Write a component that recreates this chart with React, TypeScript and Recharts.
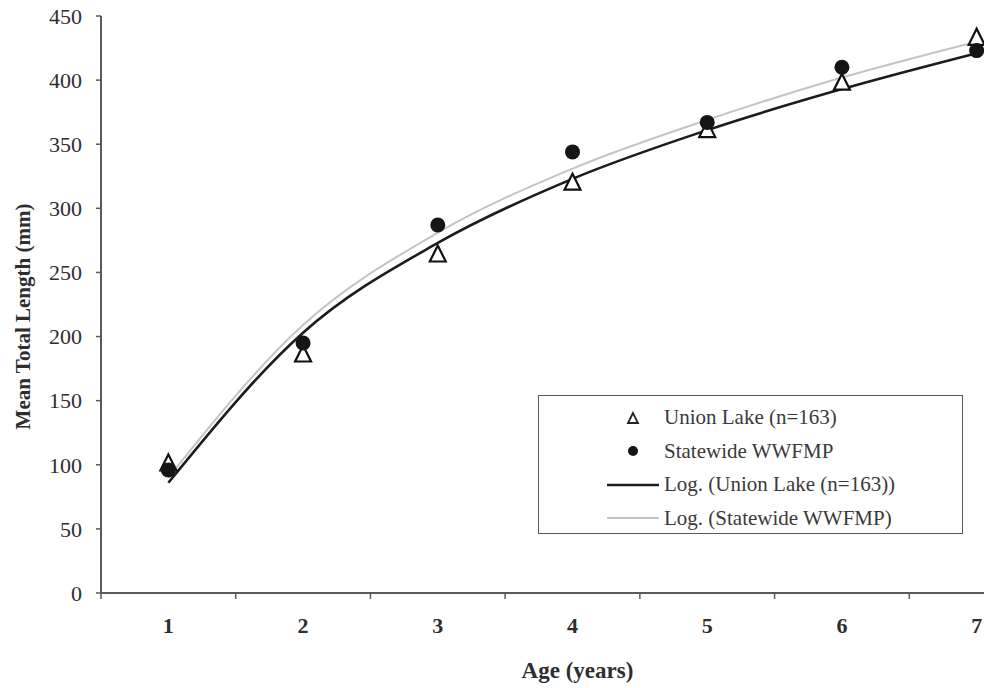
import {
  ComposedChart, Line, Scatter, XAxis, YAxis, Legend,
} from 'recharts'

const AGES = [1, 2, 3, 4, 5, 6, 7]
const AGE_BOUNDS = [0.5, 1.5, 2.5, 3.5, 4.5, 5.5, 6.5, 7.5]
const UNION_LAKE = [101, 186, 264, 320, 361, 398, 433]
const STATEWIDE = [96, 195, 287, 344, 367, 410, 423]
// trendline heights at each age
const UNION_LOG = [86, 203, 273, 323, 361, 393, 421]
const STATEWIDE_LOG = [90, 209, 281, 331, 369, 402, 430]
const Y_TICKS = [0, 50, 100, 150, 200, 250, 300, 350, 400, 450]

const LEGEND_ITEMS = [
  { label: 'Union Lake (n=163)', kind: 'triangle' },
  { label: 'Statewide WWFMP', kind: 'circle' },
  { label: 'Log. (Union Lake (n=163))', kind: 'dark' },
  { label: 'Log. (Statewide WWFMP)', kind: 'light' },
]

const FONT = '"Liberation Serif", "Times New Roman", serif'
const TEXT = '#2e2e2e'
const AXIS = '#5a5a5a'
const DARK_LINE = '#1c1c1c'
const LIGHT_LINE = '#c4c4c4'
const X_TICK_SIZE = 6
const X_TICK_MARGIN = 18

const data = AGES.map((age, i) => ({
  age,
  union: UNION_LAKE[i],
  state: STATEWIDE[i],
  unionLog: UNION_LOG[i],
  stateLog: STATEWIDE_LOG[i],
}))

const xTicks = [...AGES, ...AGE_BOUNDS].sort((a, b) => a - b)

function Triangle({ cx, cy }: any) {
  return (
    <polygon
      points={`${cx},${cy - 9} ${cx - 8},${cy + 7} ${cx + 8},${cy + 7}`}
      fill="#fff"
      stroke="#111"
      strokeWidth={2.2}
    />
  )
}

function Dot({ cx, cy }: any) {
  return <circle cx={cx} cy={cy} r={7.5} fill="#151515" />
}

function AgeTick({ x, y, payload }: any) {
  const v = payload.value
  if (Number.isInteger(v)) {
    return (
      <text x={x} y={y} dy="0.71em" textAnchor="middle" fontFamily={FONT}
        fontSize={22} fontWeight="bold" fill={TEXT}>
        {v}
      </text>
    )
  }
  const axisY = y - X_TICK_MARGIN - X_TICK_SIZE
  return <line x1={x} x2={x} y1={axisY} y2={axisY + X_TICK_SIZE} stroke={AXIS} strokeWidth={1.5} />
}

function LegendBox() {
  return (
    <div style={{
      width: 425, height: 139, boxSizing: 'border-box', border: `1.5px solid ${AXIS}`,
      background: '#fff', fontFamily: FONT, fontSize: 21, color: '#3a3a3a', paddingTop: 5,
    }}>
      {LEGEND_ITEMS.map(item => (
        <div key={item.label} style={{ display: 'flex', alignItems: 'center', height: 33.5 }}>
          <svg width={122} height={20} style={{ flex: 'none' }}>
            {item.kind === 'triangle' && (
              <polygon points="94,5 89,15 99,15" fill="#fff" stroke="#222" strokeWidth={1.8} />
            )}
            {item.kind === 'circle' && <circle cx={94} cy={10} r={5} fill="#151515" />}
            {item.kind === 'dark' && <line x1={68} x2={120} y1={10} y2={10} stroke={DARK_LINE} strokeWidth={2.5} />}
            {item.kind === 'light' && <line x1={68} x2={120} y1={10} y2={10} stroke={LIGHT_LINE} strokeWidth={2} />}
          </svg>
          <span style={{ marginLeft: 3, whiteSpace: 'nowrap' }}>{item.label}</span>
        </div>
      ))}
    </div>
  )
}

export default function App() {
  return (
    <div style={{
      position: 'absolute', left: 0, top: 0, width: 984, height: 688,
      overflow: 'hidden', background: '#fff',
    }}>
      <ComposedChart width={1060} height={688} data={data}
        margin={{ top: 16, right: 16, bottom: 0, left: 0 }}>
        <XAxis
          dataKey="age"
          type="number"
          domain={[0.5, 7.5]}
          ticks={xTicks}
          interval={0}
          tickLine={false}
          tickSize={X_TICK_SIZE}
          tickMargin={X_TICK_MARGIN}
          tick={<AgeTick />}
          axisLine={{ stroke: AXIS, strokeWidth: 2 }}
          height={95}
          label={{
            content: ({ viewBox }: any) => (
              <text x={viewBox.x + viewBox.width / 2 + 5} y={viewBox.y + 85} textAnchor="middle"
                fontFamily={FONT} fontSize={23} fontWeight="bold" fill={TEXT}>
                Age (years)
              </text>
            ),
          }}
        />
        <YAxis
          type="number"
          domain={[0, 450]}
          ticks={Y_TICKS}
          interval={0}
          width={101}
          tickSize={5}
          tickMargin={14}
          tick={{ fontFamily: FONT, fontSize: 22, fill: TEXT }}
          tickLine={{ stroke: AXIS, strokeWidth: 1.5 }}
          axisLine={{ stroke: AXIS, strokeWidth: 2 }}
          label={{
            content: ({ viewBox }: any) => {
              const x = viewBox.x + 23
              const y = viewBox.y + viewBox.height / 2 + 12
              return (
                <text x={x} y={y} transform={`rotate(-90, ${x}, ${y})`} textAnchor="middle"
                  dominantBaseline="central" fontFamily={FONT} fontSize={21} fontWeight="bold" fill={TEXT}>
                  Mean Total Length (mm)
                </text>
              )
            },
          }}
        />
        <Legend
          layout="vertical"
          align="center"
          verticalAlign="middle"
          content={() => <LegendBox />}
          wrapperStyle={{ left: 538, top: 395, width: 425, height: 139 }}
        />
        <Line dataKey="stateLog" type="monotone" stroke={LIGHT_LINE} strokeWidth={2}
          dot={false} activeDot={false} isAnimationActive={false} />
        <Line dataKey="unionLog" type="monotone" stroke={DARK_LINE} strokeWidth={2.6}
          dot={false} activeDot={false} isAnimationActive={false} />
        <Scatter dataKey="union" shape={<Triangle />} isAnimationActive={false} />
        <Scatter dataKey="state" shape={<Dot />} isAnimationActive={false} />
      </ComposedChart>
    </div>
  )
}
